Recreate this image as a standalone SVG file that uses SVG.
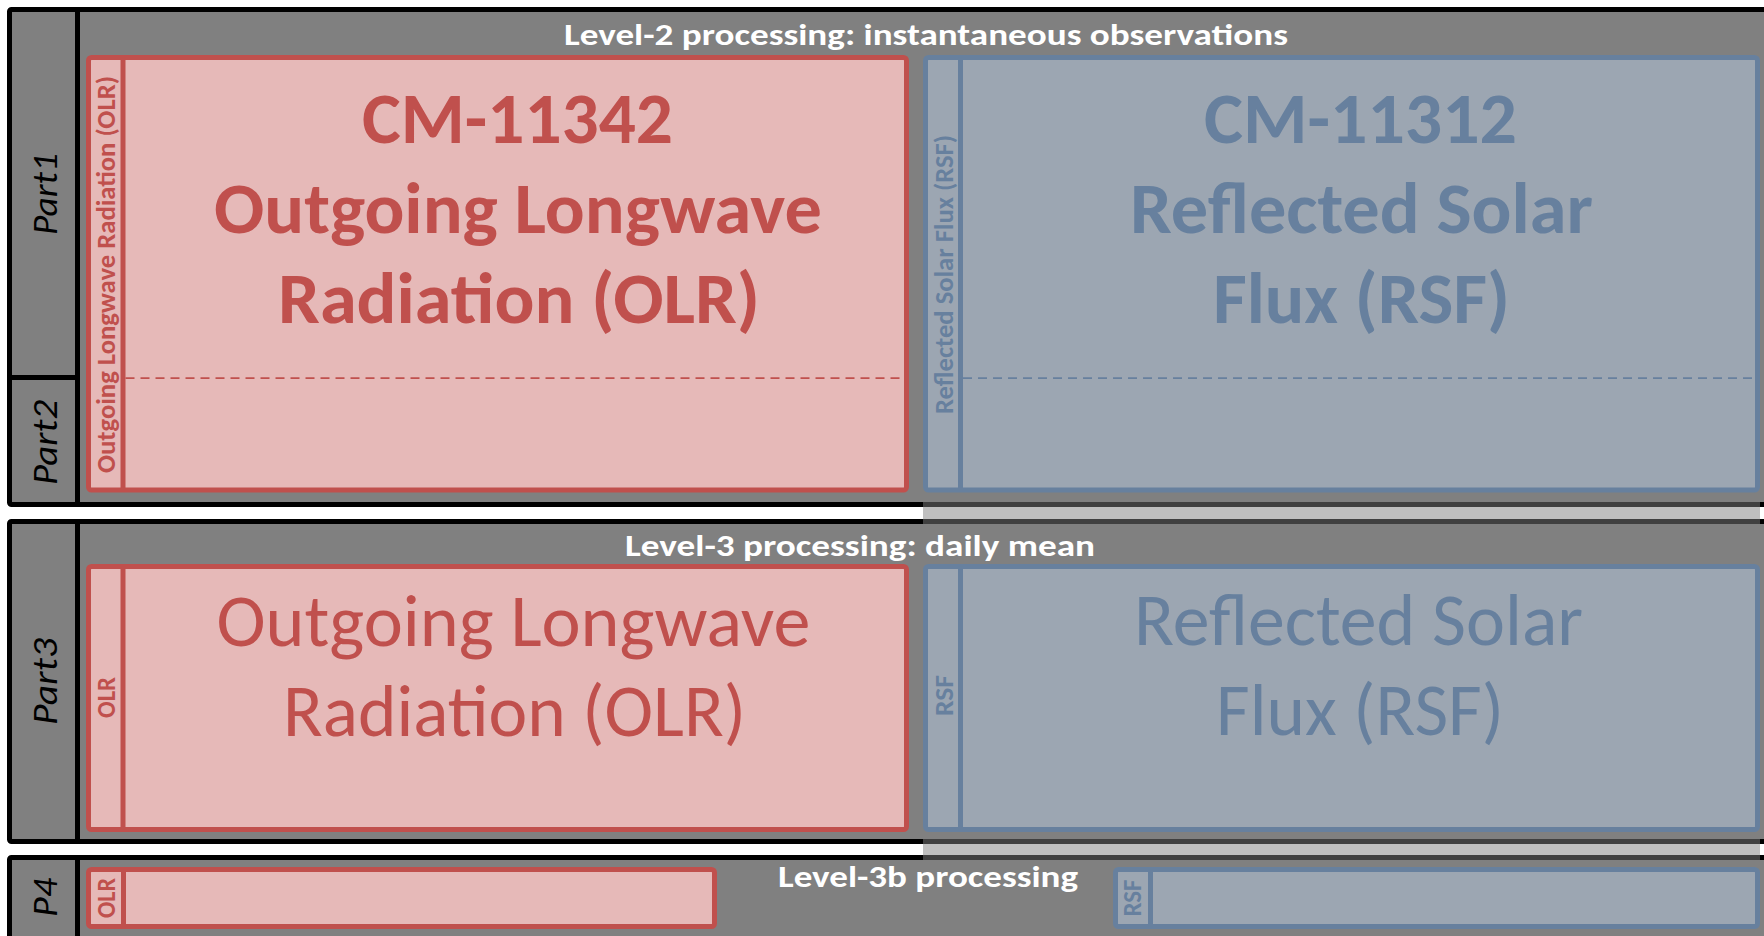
<svg xmlns="http://www.w3.org/2000/svg" width="1764" height="936" viewBox="0 0 1764 936">
  <style>
    .frame { fill: #808080; stroke: #000000; stroke-width: 5; }
    .rule { stroke: #000000; stroke-width: 5; fill: none; }
    .olr { fill: #e6b9b8; stroke: #c0504d; stroke-width: 5; }
    .rsf { fill: #9ca6b2; stroke: #67809e; stroke-width: 5; }
    .olr-line { stroke: #c0504d; stroke-width: 5; }
    .rsf-line { stroke: #67809e; stroke-width: 5; }
    .olr-dash { stroke: #c0504d; stroke-width: 1.75; stroke-dasharray: 9 6; }
    .rsf-dash { stroke: #67809e; stroke-width: 1.75; stroke-dasharray: 9 6; }
    .shade { fill: #808080; fill-opacity: 0.5; }
    text { font-family: Carlito, Lato, "Open Sans", sans-serif; }
    .title { fill: #ffffff; font-weight: bold; font-size: 30px; text-anchor: middle; }
    .part { fill: #000000; font-style: italic; font-size: 35px; text-anchor: middle; }
    .olr-t { fill: #c0504d; text-anchor: middle; }
    .rsf-t { fill: #67809e; text-anchor: middle; }
    .big-b { font-weight: bold; font-size: 73px; }
    .big-r { font-size: 73px; }
    .side { font-weight: bold; font-size: 26px; }
  </style>

  <rect width="1764" height="936" fill="#ffffff"/>

  <!-- Level-2 band: Part1 / Part2 -->
  <g id="band-level2">
    <rect class="frame" x="9.5" y="9.5" width="1800" height="495" rx="2"/>
    <line class="rule" x1="77.5" y1="9.5" x2="77.5" y2="504.5"/>
    <line class="rule" x1="9.5" y1="377.5" x2="77.5" y2="377.5"/>
    <text class="part" transform="translate(57,194) rotate(-90)" textLength="82" lengthAdjust="spacingAndGlyphs">Part1</text>
    <text class="part" transform="translate(57,442.5) rotate(-90)" textLength="85" lengthAdjust="spacingAndGlyphs">Part2</text>
    <text class="title" x="926" y="45" textLength="724" lengthAdjust="spacingAndGlyphs">Level-2 processing: instantaneous observations</text>
  </g>

  <!-- Level-3 band: Part3 -->
  <g id="band-level3">
    <rect class="frame" x="9.5" y="521.5" width="1800" height="320" rx="2"/>
    <line class="rule" x1="77.5" y1="521.5" x2="77.5" y2="841.5"/>
    <text class="part" transform="translate(57,681.5) rotate(-90)" textLength="87" lengthAdjust="spacingAndGlyphs">Part3</text>
    <text class="title" x="860" y="556" textLength="470" lengthAdjust="spacingAndGlyphs">Level-3 processing: daily mean</text>
  </g>

  <!-- Level-3b band: P4 -->
  <g id="band-level3b">
    <rect class="frame" x="9.5" y="857.5" width="1800" height="120" rx="2"/>
    <line class="rule" x1="77.5" y1="857.5" x2="77.5" y2="977"/>
    <text class="part" transform="translate(57,897.5) rotate(-90)" textLength="39" lengthAdjust="spacingAndGlyphs">P4</text>
    <text class="title" x="928" y="887" textLength="300" lengthAdjust="spacingAndGlyphs">Level-3b processing</text>
  </g>

  <!-- OLR, level 2 -->
  <g id="olr-l2">
    <rect class="olr" x="88.5" y="57.5" width="818" height="432.5" rx="3"/>
    <line class="olr-line" x1="123" y1="57.5" x2="123" y2="490"/>
    <line class="olr-dash" x1="125.5" y1="378" x2="904" y2="378"/>
    <text class="olr-t side" transform="translate(115,274.5) rotate(-90)" textLength="397" lengthAdjust="spacingAndGlyphs">Outgoing Longwave Radiation (OLR)</text>
    <text class="olr-t big-b" x="517.5" y="143" textLength="311" lengthAdjust="spacingAndGlyphs">CM-11342</text>
    <text class="olr-t big-b" x="518" y="233" textLength="608" lengthAdjust="spacingAndGlyphs">Outgoing Longwave</text>
    <text class="olr-t big-b" x="519" y="323" textLength="482" lengthAdjust="spacingAndGlyphs">Radiation (OLR)</text>
  </g>

  <!-- RSF, level 2 -->
  <g id="rsf-l2">
    <rect class="rsf" x="925.5" y="57.5" width="832" height="432.5" rx="3"/>
    <line class="rsf-line" x1="960.5" y1="57.5" x2="960.5" y2="490"/>
    <line class="rsf-dash" x1="963" y1="378" x2="1755" y2="378"/>
    <text class="rsf-t side" transform="translate(953,274.5) rotate(-90)" textLength="279" lengthAdjust="spacingAndGlyphs">Reflected Solar Flux (RSF)</text>
    <text class="rsf-t big-b" x="1360.5" y="143" textLength="313" lengthAdjust="spacingAndGlyphs">CM-11312</text>
    <text class="rsf-t big-b" x="1361.5" y="233" textLength="463" lengthAdjust="spacingAndGlyphs">Reflected Solar</text>
    <text class="rsf-t big-b" x="1361.5" y="323" textLength="297" lengthAdjust="spacingAndGlyphs">Flux (RSF)</text>
  </g>

  <!-- OLR, level 3 -->
  <g id="olr-l3">
    <rect class="olr" x="88.5" y="566.5" width="818" height="263" rx="3"/>
    <line class="olr-line" x1="123" y1="566.5" x2="123" y2="829.5"/>
    <text class="olr-t side" transform="translate(115,697.5) rotate(-90)" textLength="41" lengthAdjust="spacingAndGlyphs">OLR</text>
    <text class="olr-t big-r" x="513.5" y="646" textLength="594" lengthAdjust="spacingAndGlyphs">Outgoing Longwave</text>
    <text class="olr-t big-r" x="514.5" y="736" textLength="463" lengthAdjust="spacingAndGlyphs">Radiation (OLR)</text>
  </g>

  <!-- RSF, level 3 -->
  <g id="rsf-l3">
    <rect class="rsf" x="925.5" y="566.5" width="832" height="263" rx="3"/>
    <line class="rsf-line" x1="960.5" y1="566.5" x2="960.5" y2="829.5"/>
    <text class="rsf-t side" transform="translate(953,695.5) rotate(-90)" textLength="41" lengthAdjust="spacingAndGlyphs">RSF</text>
    <text class="rsf-t big-r" x="1358.5" y="645" textLength="449" lengthAdjust="spacingAndGlyphs">Reflected Solar</text>
    <text class="rsf-t big-r" x="1360" y="735" textLength="288" lengthAdjust="spacingAndGlyphs">Flux (RSF)</text>
  </g>

  <!-- OLR, level 3b -->
  <g id="olr-l3b">
    <rect class="olr" x="88.5" y="869.5" width="626" height="57" rx="3"/>
    <line class="olr-line" x1="123.5" y1="869.5" x2="123.5" y2="926.5"/>
    <text class="olr-t side" transform="translate(115,898) rotate(-90)" textLength="40" lengthAdjust="spacingAndGlyphs">OLR</text>
  </g>

  <!-- RSF, level 3b -->
  <g id="rsf-l3b">
    <rect class="rsf" x="1115.5" y="869.5" width="642" height="57" rx="3"/>
    <line class="rsf-line" x1="1150.5" y1="869.5" x2="1150.5" y2="926.5"/>
    <text class="rsf-t side" transform="translate(1141,898) rotate(-90)" textLength="37" lengthAdjust="spacingAndGlyphs">RSF</text>
  </g>

  <!-- translucent shading over the RSF column in the gaps between bands -->
  <g id="shading">
    <rect class="shade" x="923" y="502" width="837" height="22"/>
    <rect class="shade" x="923" y="839" width="837" height="21"/>
  </g>
</svg>
